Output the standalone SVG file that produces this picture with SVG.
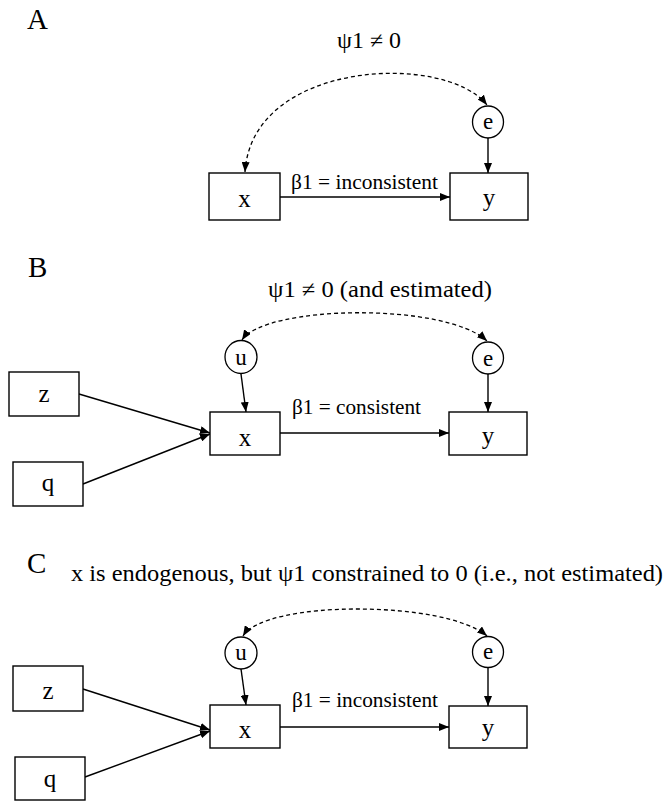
<svg xmlns="http://www.w3.org/2000/svg" width="672" height="801" viewBox="0 0 672 801">
<defs>
<style>
.box{fill:#fff;stroke:#000;stroke-width:1.4}
.lat{fill:#fff;stroke:#000;stroke-width:1.3}
.edge{fill:none;stroke:#000;stroke-width:1.4}
.cov{fill:none;stroke:#000;stroke-width:1.3;stroke-dasharray:4 3}
.lbl{font-family:"Liberation Serif","Times New Roman",serif;font-size:23px;fill:#000}
.bl{font-family:"Liberation Serif","Times New Roman",serif;font-size:21px;fill:#000}
.nd{font-family:"Liberation Serif","Times New Roman",serif;font-size:25px;fill:#000;text-anchor:middle}
.nc{font-family:"Liberation Serif","Times New Roman",serif;font-size:23px;fill:#000;text-anchor:middle}
.pan{font-family:"Liberation Serif","Times New Roman",serif;font-size:29px;fill:#000}
</style>
<marker id="ah" viewBox="0 0 10 8" refX="10" refY="4" markerWidth="10" markerHeight="8" markerUnits="userSpaceOnUse" orient="auto-start-reverse">
<path d="M0,0 L10,4 L0,8 z" fill="#000"/>
</marker>
</defs>
<rect width="672" height="801" fill="#fff"/>

<!-- Panel A -->
<text class="pan" x="27" y="29">A</text>
<text class="lbl" x="337" y="48" textLength="64" lengthAdjust="spacingAndGlyphs">ψ1 ≠ 0</text>
<g id="connectors-A">
<path class="cov" d="M245,172 C252,60 445,52 487,105" marker-start="url(#ah)" marker-end="url(#ah)"/>
<line class="edge" x1="488" y1="138" x2="488" y2="173" marker-end="url(#ah)"/>
<line class="edge" x1="280" y1="197" x2="450" y2="197" marker-end="url(#ah)"/>
<text class="bl" x="291" y="189" textLength="147" lengthAdjust="spacingAndGlyphs">β1 = inconsistent</text>
</g>
<g id="A-x"><rect class="box" x="209" y="173" width="71" height="47"/><text class="nd" x="244.5" y="207">x</text></g>
<g id="A-y"><rect class="box" x="450" y="173" width="78" height="47"/><text class="nd" x="489" y="206">y</text></g>
<g id="A-e"><ellipse class="lat" cx="488" cy="122" rx="15.5" ry="16"/><text class="nc" x="488" y="129">e</text></g>

<!-- Panel B -->
<text class="pan" x="28" y="277">B</text>
<text class="lbl" x="268" y="297" textLength="224" lengthAdjust="spacingAndGlyphs">ψ1 ≠ 0 (and estimated)</text>
<g id="connectors-B">
<path class="cov" d="M242,340 C265,305 445,302 487,341" marker-start="url(#ah)" marker-end="url(#ah)"/>
<line class="edge" x1="241" y1="374" x2="246" y2="412" marker-end="url(#ah)"/>
<line class="edge" x1="488" y1="374" x2="488" y2="412" marker-end="url(#ah)"/>
<line class="edge" x1="79" y1="394" x2="210" y2="433" marker-end="url(#ah)"/>
<line class="edge" x1="83" y1="484" x2="210" y2="434" marker-end="url(#ah)"/>
<line class="edge" x1="280" y1="433" x2="449" y2="433" marker-end="url(#ah)"/>
<text class="bl" x="292" y="414" textLength="129" lengthAdjust="spacingAndGlyphs">β1 = consistent</text>
</g>
<g id="B-z"><rect class="box" x="9" y="372" width="70" height="44"/><text class="nd" x="44" y="402">z</text></g>
<g id="B-q"><rect class="box" x="13" y="462" width="70" height="44"/><text class="nd" x="48" y="491">q</text></g>
<g id="B-x"><rect class="box" x="210" y="412" width="70" height="43"/><text class="nd" x="245" y="446">x</text></g>
<g id="B-y"><rect class="box" x="449" y="412" width="78" height="43"/><text class="nd" x="488" y="444">y</text></g>
<g id="B-u"><ellipse class="lat" cx="241" cy="357" rx="16" ry="16.5"/><text class="nc" x="241" y="365">u</text></g>
<g id="B-e"><ellipse class="lat" cx="488" cy="358" rx="15.5" ry="16"/><text class="nc" x="488" y="366">e</text></g>

<!-- Panel C -->
<text class="pan" x="27" y="573">C</text>
<text class="lbl" x="71" y="581" textLength="592" lengthAdjust="spacingAndGlyphs">x is endogenous, but ψ1 constrained to 0 (i.e., not estimated)</text>
<g id="connectors-C">
<path class="cov" d="M243,636 C265,600 445,600 487,636" marker-start="url(#ah)" marker-end="url(#ah)"/>
<line class="edge" x1="241" y1="669" x2="246" y2="705" marker-end="url(#ah)"/>
<line class="edge" x1="488" y1="668" x2="488" y2="706" marker-end="url(#ah)"/>
<line class="edge" x1="83" y1="689" x2="210" y2="730" marker-end="url(#ah)"/>
<line class="edge" x1="85" y1="777" x2="210" y2="731" marker-end="url(#ah)"/>
<line class="edge" x1="280" y1="727" x2="449" y2="727" marker-end="url(#ah)"/>
<text class="bl" x="292" y="707" textLength="146" lengthAdjust="spacingAndGlyphs">β1 = inconsistent</text>
</g>
<g id="C-z"><rect class="box" x="13" y="666" width="70" height="45"/><text class="nd" x="48" y="699">z</text></g>
<g id="C-q"><rect class="box" x="15" y="757" width="70" height="43"/><text class="nd" x="50" y="787">q</text></g>
<g id="C-x"><rect class="box" x="210" y="705" width="70" height="43"/><text class="nd" x="245" y="738">x</text></g>
<g id="C-y"><rect class="box" x="449" y="706" width="78" height="42"/><text class="nd" x="488" y="736">y</text></g>
<g id="C-u"><ellipse class="lat" cx="241" cy="653" rx="16" ry="16"/><text class="nc" x="241" y="660">u</text></g>
<g id="C-e"><ellipse class="lat" cx="488" cy="652" rx="15.5" ry="15.5"/><text class="nc" x="488" y="659">e</text></g>
</svg>
